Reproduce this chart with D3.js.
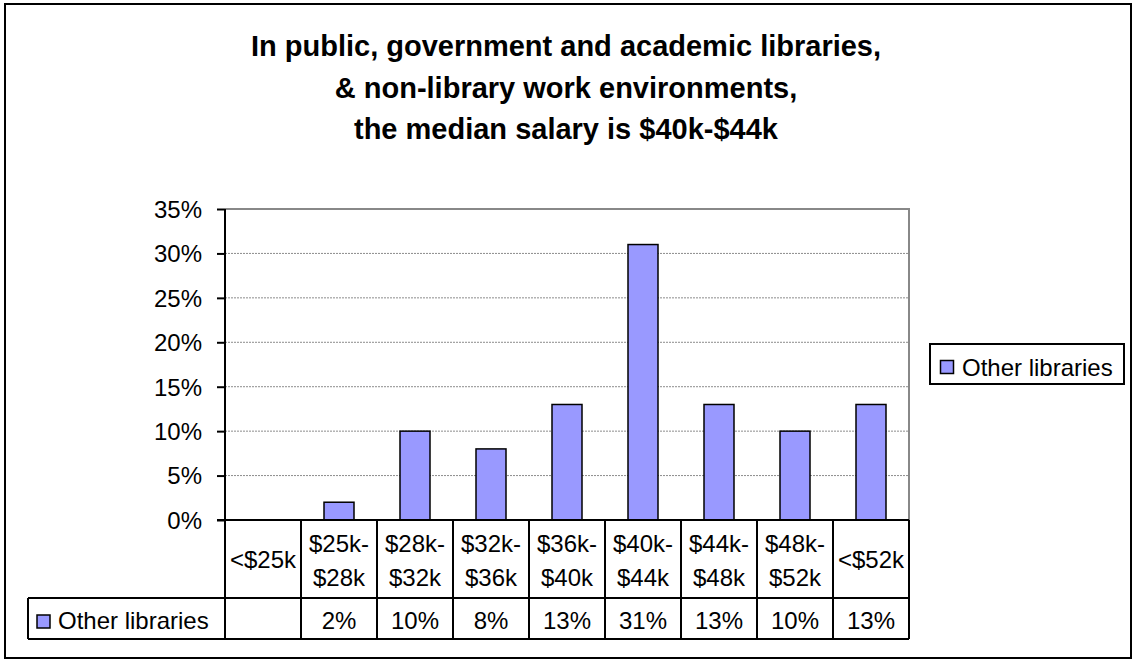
<!DOCTYPE html>
<html>
<head>
<meta charset="utf-8">
<script src="https://cdn.jsdelivr.net/npm/d3@7"></script>
<style>
  html, body { margin: 0; padding: 0; background: #fff; }
  svg { display: block; font-family: "Liberation Sans", Arial, sans-serif; }
</style>
</head>
<body>
<svg id="chart" width="1132" height="660"></svg>
<script>
// Salary bands and share of respondents (percent)
const categories = ["<$25k", "$25k-\n$28k", "$28k-\n$32k", "$32k-\n$36k", "$36k-\n$40k",
                    "$40k-\n$44k", "$44k-\n$48k", "$48k-\n$52k", "<$52k"];
const values = [null, 2, 10, 8, 13, 31, 13, 10, 13];
const seriesName = "Other libraries";
const yTicks = [0, 5, 10, 15, 20, 25, 30, 35];
const titleLines = [
  "In public, government and academic libraries,",
  "& non-library work environments,",
  "the median salary is $40k-$44k"
];

const barFill = "#9999ff";
const labelSize = 24;
const svg = d3.select("#chart");

// Outer chart frame
svg.append("rect").attr("x", 5).attr("y", 4).attr("width", 1126).attr("height", 654)
  .attr("fill", "#fff").attr("stroke", "#000").attr("stroke-width", 2);

// Title
svg.append("g").selectAll("text").data(titleLines).join("text")
  .attr("x", 566).attr("y", (d, i) => 56 + i * 41.5)
  .attr("text-anchor", "middle")
  .attr("font-size", 29).attr("font-weight", "bold")
  .text(d => d);

// Plot area
const plot = { left: 225, right: 909, top: 209, bottom: 520 };
const x = d3.scaleBand().domain(categories).range([plot.left, plot.right]).paddingInner(0).paddingOuter(0);
const y = d3.scaleLinear().domain([0, 35]).range([plot.bottom, plot.top]);

// Gridlines
svg.append("g").selectAll("line").data(yTicks.filter(t => t > 0)).join("line")
  .attr("x1", plot.left).attr("x2", plot.right)
  .attr("y1", d => y(d)).attr("y2", d => y(d))
  .attr("stroke", "#8c8c8c").attr("stroke-width", 1).attr("stroke-dasharray", "2,1");

// Plot area border (top and right)
svg.append("path")
  .attr("d", `M${plot.left},${plot.top}H${plot.right}V${plot.bottom}`)
  .attr("fill", "none").attr("stroke", "#888").attr("stroke-width", 2);

// Bars
const barW = 30;
svg.append("g").selectAll("rect").data(values.map((v, i) => ({ v, c: categories[i] })).filter(d => d.v !== null))
  .join("rect")
  .attr("x", d => x(d.c) + x.bandwidth() / 2 - barW / 2)
  .attr("width", barW)
  .attr("y", d => y(d.v))
  .attr("height", d => y(0) - y(d.v))
  .attr("fill", barFill).attr("stroke", "#000").attr("stroke-width", 1.5);

// Y axis
const yAxis = d3.axisLeft(y).tickValues(yTicks).tickFormat(d => d + "%").tickSize(8).tickPadding(15);
const yg = svg.append("g").attr("transform", `translate(${plot.left},0)`).call(yAxis);
yg.select(".domain").attr("stroke", "#000").attr("stroke-width", 2).attr("d", `M0,${plot.top}V${plot.bottom}`);
yg.selectAll(".tick line").attr("stroke", "#000").attr("stroke-width", 2);
yg.selectAll(".tick text").attr("font-size", labelSize).attr("fill", "#000")
  .attr("font-family", "Liberation Sans, Arial, sans-serif")
  .attr("dy", "0.35em");

// Data table beneath the plot
const rowTop = plot.bottom, rowMid = 598, rowBot = 639, tableLeft = 28;
const grid = svg.append("g").attr("stroke", "#000").attr("stroke-width", 2).attr("fill", "none");
grid.append("line").attr("x1", plot.left - 8).attr("x2", plot.right).attr("y1", rowTop).attr("y2", rowTop);
grid.append("line").attr("x1", tableLeft).attr("x2", plot.right).attr("y1", rowMid).attr("y2", rowMid);
grid.append("line").attr("x1", tableLeft).attr("x2", plot.right).attr("y1", rowBot).attr("y2", rowBot);
grid.append("line").attr("x1", tableLeft).attr("x2", tableLeft).attr("y1", rowMid).attr("y2", rowBot);
grid.selectAll(".col").data(categories.concat(["end"])).join("line")
  .attr("x1", (d, i) => plot.left + i * x.bandwidth())
  .attr("x2", (d, i) => plot.left + i * x.bandwidth())
  .attr("y1", rowTop).attr("y2", rowBot);

// Category labels
const catG = svg.append("g").attr("font-size", labelSize).attr("text-anchor", "middle");
categories.forEach(c => {
  const lines = c.split("\n");
  const cx = x(c) + x.bandwidth() / 2;
  if (lines.length === 1) {
    catG.append("text").attr("x", cx).attr("y", 568).text(lines[0]);
  } else {
    lines.forEach((l, i) => catG.append("text").attr("x", cx).attr("y", 552 + i * 34).text(l));
  }
});

// Values row
svg.append("g").attr("font-size", labelSize).attr("text-anchor", "middle")
  .selectAll("text").data(values.map((v, i) => ({ v, c: categories[i] }))).join("text")
  .attr("x", d => x(d.c) + x.bandwidth() / 2)
  .attr("y", 629)
  .text(d => d.v === null ? "" : d.v + "%");

// Series key in the table
svg.append("rect").attr("x", 37).attr("y", 615).attr("width", 13).attr("height", 13)
  .attr("fill", barFill).attr("stroke", "#000").attr("stroke-width", 1.5);
svg.append("text").attr("x", 58).attr("y", 629).attr("font-size", labelSize).text(seriesName);

// Legend
const lg = svg.append("g");
lg.append("rect").attr("x", 930).attr("y", 344).attr("width", 194).attr("height", 40)
  .attr("fill", "#fff").attr("stroke", "#000").attr("stroke-width", 2);
lg.append("rect").attr("x", 940.5).attr("y", 360.5).attr("width", 13).attr("height", 13)
  .attr("fill", barFill).attr("stroke", "#000").attr("stroke-width", 1.5);
lg.append("text").attr("x", 962).attr("y", 375.5).attr("font-size", labelSize).text(seriesName);
</script>
</body>
</html>
